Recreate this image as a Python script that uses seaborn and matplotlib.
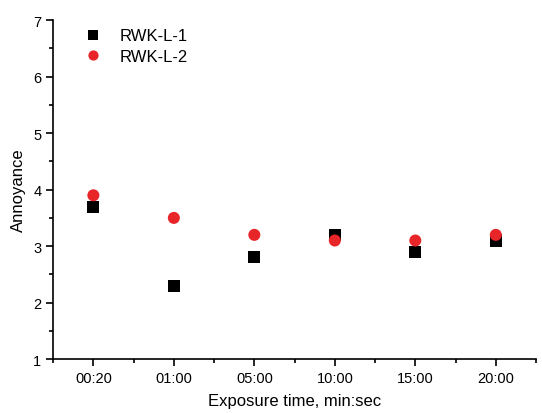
import matplotlib
matplotlib.use('Agg')
import matplotlib.pyplot as plt
from matplotlib.ticker import MultipleLocator, FixedLocator
import pandas as pd
import seaborn as sns

sns.set_style("ticks")
plt.rcParams['font.family'] = ['Liberation Sans', 'DejaVu Sans']
plt.rcParams['text.color'] = 'black'
plt.rcParams['axes.labelcolor'] = 'black'
plt.rcParams['xtick.color'] = 'black'
plt.rcParams['ytick.color'] = 'black'

times = ['00:20', '01:00', '05:00', '10:00', '15:00', '20:00']
rwk_l1 = [3.7, 2.3, 2.8, 3.2, 2.9, 3.1]
rwk_l2 = [3.9, 3.5, 3.2, 3.1, 3.1, 3.2]

df = pd.DataFrame({
    'time': times * 2,
    'annoyance': rwk_l1 + rwk_l2,
    'series': ['RWK-L-1'] * len(times) + ['RWK-L-2'] * len(times),
})

fig = plt.figure(figsize=(5.42, 4.14), dpi=100)
ax = fig.add_axes([0.098, 0.130, 0.891, 0.819])

sns.scatterplot(data=df, x='time', y='annoyance', hue='series', style='series',
                palette={'RWK-L-1': 'black', 'RWK-L-2': '#e8262a'},
                markers={'RWK-L-1': 's', 'RWK-L-2': 'o'},
                s=75, linewidth=0, ax=ax, zorder=3)

ax.set_xlim(-0.5, 5.5)
ax.set_ylim(1, 7)
ax.yaxis.set_major_locator(MultipleLocator(1))
ax.yaxis.set_minor_locator(MultipleLocator(0.5))
ax.xaxis.set_minor_locator(FixedLocator([-0.5, 0.5, 1.5, 2.5, 3.5, 4.5, 5.5]))
ax.tick_params(axis='both', which='major', direction='out', length=5, width=1.2,
               labelsize=10.5, color='black', labelcolor='black')
ax.tick_params(axis='both', which='minor', direction='out', length=3, width=1.2, color='black')
for side in ['left', 'bottom']:
    ax.spines[side].set_linewidth(1.2)
    ax.spines[side].set_color('black')
sns.despine(ax=ax)

ax.set_xlabel('Exposure time, min:sec', fontsize=12, labelpad=6)
ax.set_ylabel('Annoyance', fontsize=12, labelpad=5)

leg = ax.legend(loc='upper left', bbox_to_anchor=(0.03, 1.0), frameon=False,
                fontsize=12, handletextpad=0.6, markerscale=0.85, borderaxespad=0.1,
                labelspacing=0.35)

fig.savefig('out.png', dpi=100)
